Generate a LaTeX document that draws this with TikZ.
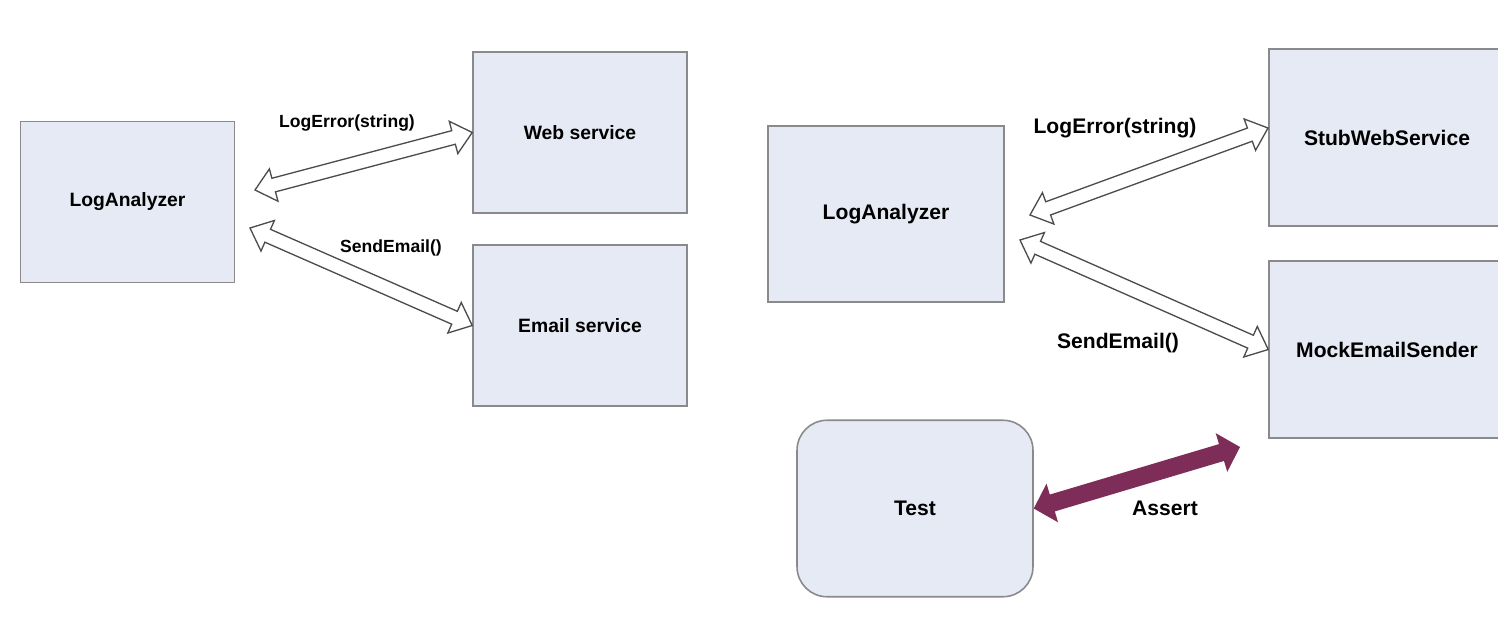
\documentclass[tikz,border=0pt]{standalone}
\usepackage{fontspec}
\setmainfont{Liberation Sans}
\usetikzlibrary{calc}
\definecolor{boxfill}{HTML}{E6EAF4}
\definecolor{boxline}{HTML}{8A8A8A}
\definecolor{assertcol}{HTML}{7E2D58}
\tikzstyle{box}=[draw=boxline,fill=boxfill,line width=0.9pt,inner sep=0pt]
\tikzstyle{lbox}=[box,minimum width=4.28cm,minimum height=3.22cm,font=\fontsize{11}{13}\selectfont\bfseries]
\tikzstyle{rbox}=[box,minimum width=4.72cm,minimum height=3.53cm,font=\fontsize{12}{14}\selectfont\bfseries]
\tikzstyle{llabel}=[inner sep=0pt,font=\fontsize{10}{12}\selectfont\bfseries]
\tikzstyle{rlabel}=[inner sep=0pt,font=\fontsize{12}{14}\selectfont\bfseries]
\tikzstyle{hollow}=[draw=black!70,fill=white,line width=0.75pt,line join=miter]
\tikzstyle{assertarrow}=[fill=assertcol,draw=none]
% block arrow with two heads: [style]{from}{to}{head length}{head half width}{shaft half width}
\newcommand{\blockarrow}[6][]{%
  \draw[#1] (#2) -- ($(#2)!#4!(#3)!#5!90:(#3)$) -- ($(#2)!#4!(#3)!#6!90:(#3)$)
    -- ($(#3)!#4!(#2)!#6!-90:(#2)$) -- ($(#3)!#4!(#2)!#5!-90:(#2)$) -- (#3)
    -- ($(#3)!#4!(#2)!#5!90:(#2)$) -- ($(#3)!#4!(#2)!#6!90:(#2)$)
    -- ($(#2)!#4!(#3)!#6!-90:(#3)$) -- ($(#2)!#4!(#3)!#5!-90:(#3)$) -- cycle;}

\begin{document}
\begin{tikzpicture}[x=0.02cm,y=-0.02cm]
  \clip (0,0) rectangle (1498,616);
  \fill[white] (0,0) rectangle (1498,616);
  % left picture
  \node[lbox] (lana) at (127.5,202) {LogAnalyzer};
  \node[lbox] (wsvc) at (580,132.5) {Web service};
  \node[lbox] (esvc) at (580,325.5) {Email service};
  \coordinate (lerr) at (255,190);
  \coordinate (lsend) at (250,228);
  \blockarrow[hollow]{lerr}{wsvc.west}{11pt}{9.5pt}{4pt}
  \blockarrow[hollow]{lsend}{esvc.west}{11pt}{9.5pt}{4pt}
  \node[llabel] (lerrlabel) at (347,123) {LogError(string)};
  \node[llabel] (lsendlabel) at (391,248) {SendEmail()};
  % right picture
  \node[rbox] (rana) at (886,214) {LogAnalyzer};
  \node[rbox] (stub) at (1387,137.5) {StubWebService};
  \node[rbox] (mock) at (1387,349.5) {MockEmailSender};
  \node[rbox,rounded corners=0.6cm] (test) at (915,508.5) {Test};
  \coordinate (rerr) at (1030,215);
  \coordinate (rerrend) at (1268,128);
  \coordinate (rsend) at (1020,240);
  \coordinate (assertend) at (1240,447);
  \blockarrow[hollow]{rerr}{rerrend}{11pt}{9.5pt}{4pt}
  \blockarrow[hollow]{rsend}{mock.west}{11pt}{9.5pt}{4pt}
  \blockarrow[assertarrow]{test.east}{assertend}{11pt}{11.5pt}{5pt}
  \node[rlabel] (rerrlabel) at (1115,128) {LogError(string)};
  \node[rlabel] (rsendlabel) at (1118,343) {SendEmail()};
  \node[rlabel] (assertlabel) at (1165,508) {Assert};
\end{tikzpicture}
\end{document}
